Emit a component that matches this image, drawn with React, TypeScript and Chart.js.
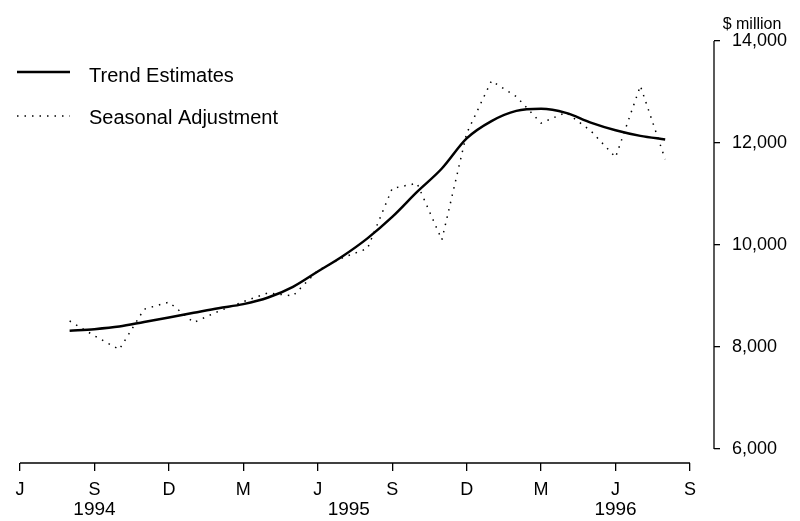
import React, { useEffect, useRef } from "react";
import { Chart, registerables } from "chart.js";

Chart.register(...registerables);

// Month index: 0 = June 1994 ... 27 = September 1996
const startMonth = 2; // August 1994
const trendValues = [8320, 8350, 8400, 8490, 8580, 8670, 8760, 8840, 8970, 9180, 9480, 9780, 10130, 10550, 11040, 11500, 12090, 12430, 12630, 12670, 12590, 12400, 12250, 12140, 12070];
const seasonalValues = [8510, 8220, 7950, 8740, 8880, 8480, 8700, 8890, 9060, 9000, 9500, 9750, 9930, 11110, 11210, 10100, 12190, 13220, 12910, 12390, 12600, 12240, 11720, 13120, 11680];
const xTickValues = [0, 3, 6, 9, 12, 15, 18, 21, 24, 27];
const xTickLetters = ["J", "S", "D", "M", "J", "S", "D", "M", "J", "S"];
const yearLabels = ["1994", "1995", "1996"];
const yearPositions = [3, 13.25, 24];
const yTickValues = [6000, 8000, 10000, 12000, 14000];
const seriesNames = ["Trend Estimates", "Seasonal Adjustment"];

const FONT = "'Liberation Sans', Arial, Helvetica, sans-serif";

const axesPlugin = {
  id: "customAxes",
  afterDraw(chart: any) {
    const ctx = chart.ctx;
    const xs = chart.scales.x;
    const ys = chart.scales.y;
    const area = chart.chartArea;
    ctx.save();
    ctx.strokeStyle = "#000";
    ctx.lineWidth = 1.3;
    // x axis line
    ctx.beginPath();
    ctx.moveTo(xs.getPixelForValue(xTickValues[0]), area.bottom);
    ctx.lineTo(xs.getPixelForValue(xTickValues[xTickValues.length - 1]), area.bottom);
    ctx.stroke();
    // y axis line
    ctx.beginPath();
    ctx.moveTo(area.right, ys.getPixelForValue(yTickValues[0]));
    ctx.lineTo(area.right, ys.getPixelForValue(yTickValues[yTickValues.length - 1]));
    ctx.stroke();
    // year labels
    ctx.fillStyle = "#000";
    ctx.font = `19px ${FONT}`;
    ctx.textAlign = "center";
    ctx.textBaseline = "middle";
    yearLabels.forEach((t, i) => {
      ctx.fillText(t, xs.getPixelForValue(yearPositions[i]), 510);
    });
    // unit label
    ctx.font = `16px ${FONT}`;
    ctx.fillText("$ million", 752, 25);
    // legend
    ctx.textAlign = "left";
    ctx.font = `20px ${FONT}`;
    ctx.lineWidth = 2.5;
    ctx.setLineDash([]);
    ctx.beginPath();
    ctx.moveTo(17, 72);
    ctx.lineTo(70, 72);
    ctx.stroke();
    ctx.fillText(seriesNames[0], 89, 76);
    ctx.lineWidth = 1.5;
    ctx.setLineDash([1.5, 6]);
    ctx.beginPath();
    ctx.moveTo(17, 116);
    ctx.lineTo(70, 116);
    ctx.stroke();
    ctx.setLineDash([]);
    ctx.fillText(seriesNames[1], 89, 118);
    ctx.restore();
  },
};

export default function App() {
  const ref = useRef<HTMLCanvasElement | null>(null);
  useEffect(() => {
    if (!ref.current) return;
    const trendData = trendValues.map((v, i) => ({ x: startMonth + i, y: v }));
    const seasonalData = seasonalValues.map((v, i) => ({ x: startMonth + i, y: v }));
    const chart = new Chart(ref.current, {
      type: "line",
      data: {
        datasets: [
          {
            label: seriesNames[0],
            data: trendData,
            borderColor: "#000",
            borderWidth: 2.5,
            pointRadius: 0,
            cubicInterpolationMode: "monotone",
            order: 0,
          },
          {
            label: seriesNames[1],
            data: seasonalData,
            borderColor: "#000",
            borderWidth: 1.5,
            borderDash: [1.5, 6],
            pointRadius: 0,
            tension: 0,
            order: 1,
          },
        ],
      },
      options: {
        animation: false,
        responsive: false,
        devicePixelRatio: 1,
        layout: { padding: { left: 20, top: 41, right: 0, bottom: 0 } },
        plugins: { legend: { display: false }, tooltip: { enabled: false } },
        scales: {
          x: {
            type: "linear",
            min: 0,
            max: 27 * (694 / 670),
            afterBuildTicks: (s: any) => {
              s.ticks = xTickValues.map((v) => ({ value: v }));
            },
            afterFit: (s: any) => {
              s.height = 58;
            },
            ticks: {
              autoSkip: false,
              maxRotation: 0,
              color: "#000",
              font: { size: 18, family: FONT },
              padding: 8,
              callback: (_v: any, i: number) => xTickLetters[i],
            },
            grid: { drawOnChartArea: false, drawTicks: true, tickLength: 8, color: "#000", lineWidth: 1.3 },
            border: { display: false },
          },
          y: {
            type: "linear",
            position: "right",
            min: 5725,
            max: 14000,
            afterBuildTicks: (s: any) => {
              s.ticks = yTickValues.map((v) => ({ value: v }));
            },
            afterFit: (s: any) => {
              s.width = 86;
            },
            ticks: {
              color: "#000",
              font: { size: 18, family: FONT },
              padding: 12,
              callback: (v: any) => Number(v).toLocaleString("en-US"),
            },
            grid: { drawOnChartArea: false, drawTicks: true, tickLength: 6, color: "#000", lineWidth: 1.3 },
            border: { display: false },
          },
        },
      },
      plugins: [axesPlugin],
    } as any);
    return () => chart.destroy();
  }, []);
  return (
    <canvas
      ref={ref}
      width={800}
      height={521}
      style={{ position: "absolute", left: 0, top: 0, width: 800, height: 521, background: "#fff" }}
    />
  );
}
